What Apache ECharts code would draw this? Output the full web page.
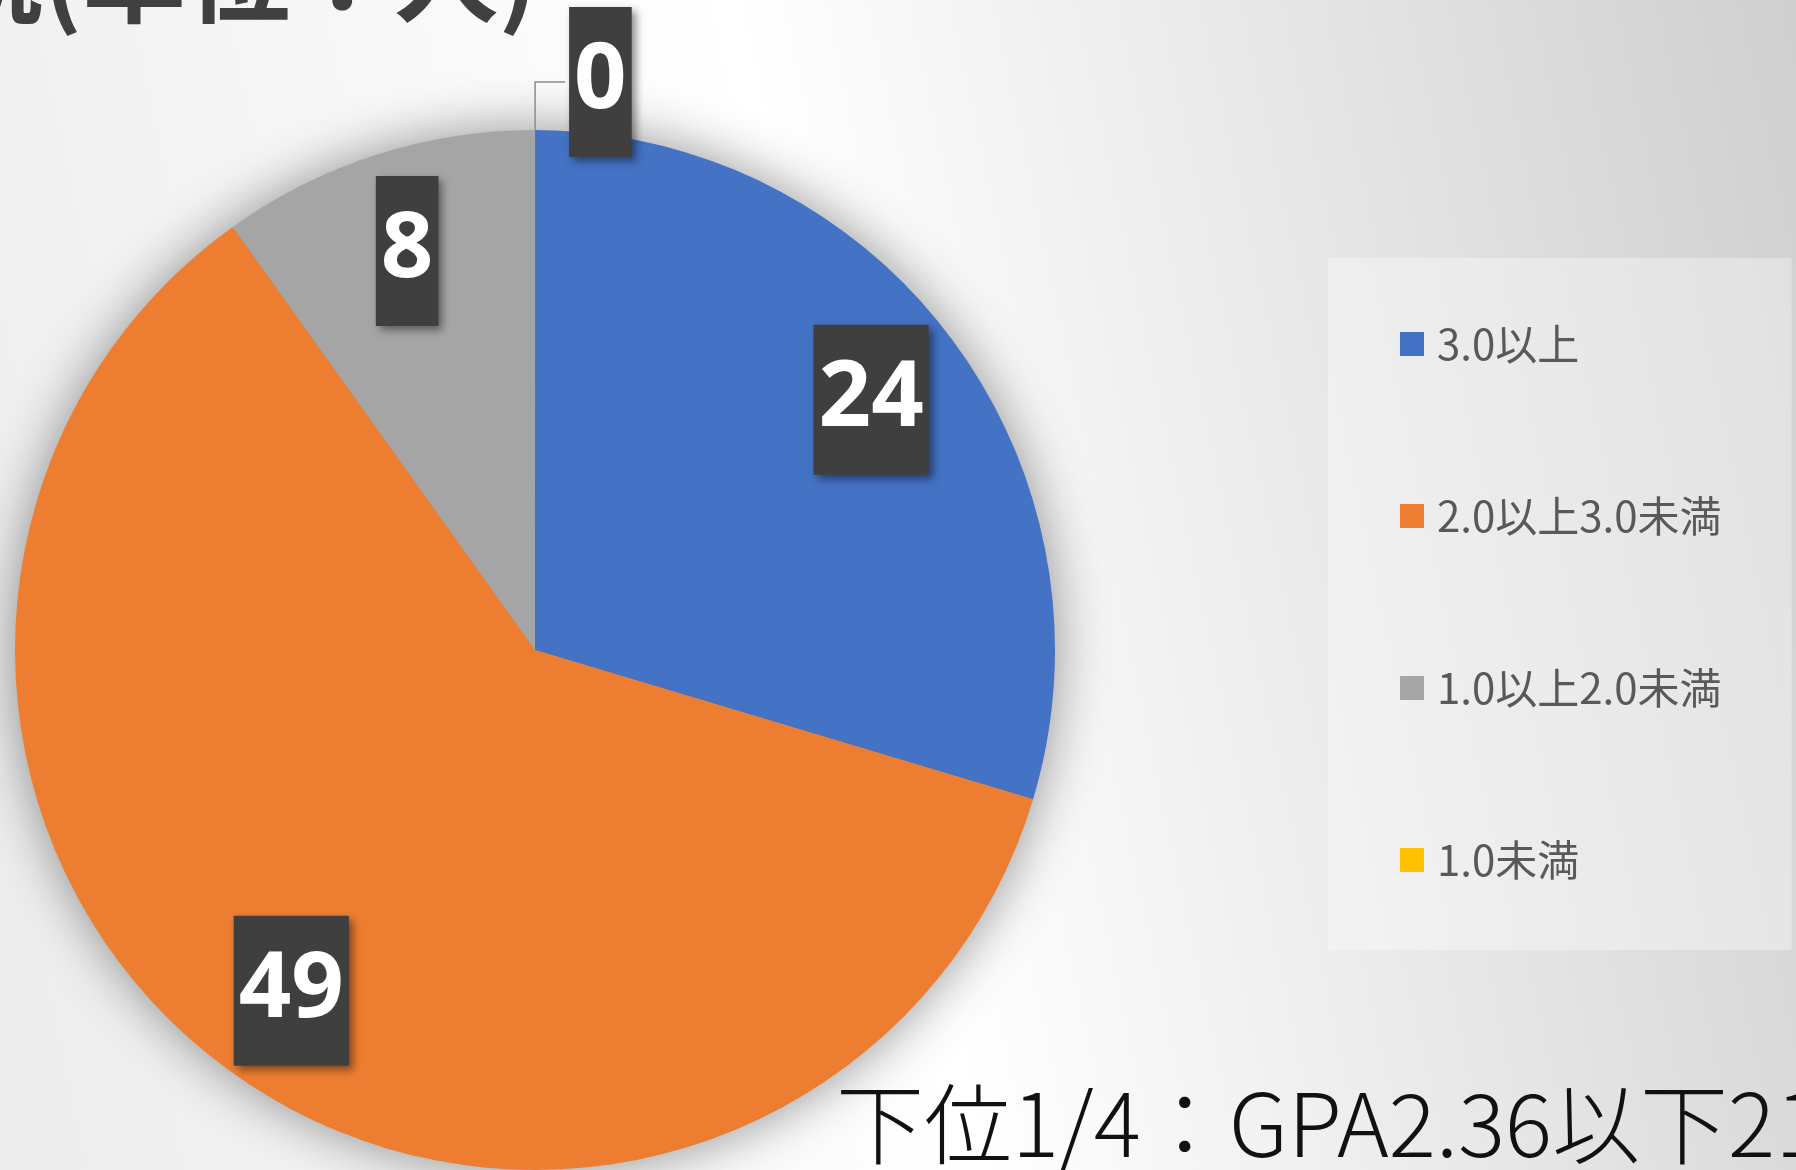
<!DOCTYPE html>
<html>
<head>
<meta charset="utf-8">
<script src="https://cdn.jsdelivr.net/npm/echarts@6/dist/echarts.min.js"></script>
<style>
  html, body { margin: 0; padding: 0; }
  #chart {
    width: 1796px; height: 1170px;
    background: linear-gradient(78deg, #ececec 0%, #ffffff 48%, #cfcfcf 100%);
  }
</style>
</head>
<body>
<div id="chart"></div>
<script>
// ---- data ----
const categories = ['3.0以上', '2.0以上3.0未満', '1.0以上2.0未満', '1.0未満'];
const counts = [24, 49, 8, 0];
const sliceColors = ['#4472C4', '#ED7D31', '#A5A5A5', '#FFC000'];
const titleText = '統(単位：人)';
const noteText = '下位1/4：GPA2.36以下21人';

// ---- chart ----
const chart = echarts.init(document.getElementById('chart'), null, { renderer: 'canvas' });

const CENTER = [535, 650];
const R = 520;
const START = 89.99; // top of the circle (tiny offset so the zero slice's label goes right)

const labelBox = {
  color: '#ffffff',
  fontFamily: '"Noto Sans", "Open Sans", sans-serif',
  fontWeight: 'bold',
  fontSize: 92,
  lineHeight: 130,
  padding: [10, 5],
  backgroundColor: '#3f3f3f',
  shadowColor: 'rgba(0,0,0,0.45)',
  shadowBlur: 8,
  shadowOffsetX: 4,
  shadowOffsetY: 4,
  formatter: '{c}'
};

const mainData = categories.map((name, i) => ({
  name: name,
  value: counts[i],
  itemStyle: { color: sliceColors[i] },
  label: { show: counts[i] === 0 },
  labelLine: { show: counts[i] === 0 }
}));

const overlayData = categories.map((name, i) => ({
  name: name,
  value: counts[i],
  label: { show: counts[i] !== 0 }
}));

const option = {
  animation: false,
  backgroundColor: 'transparent',
  graphic: [
    {
      type: 'text',
      x: -61, y: -25,
      z: 10,
      style: {
        text: titleText,
        font: 'bold 104px "Noto Sans CJK JP"',
        fill: '#404040',
        align: 'left',
        verticalAlign: 'middle'
      }
    },
    {
      type: 'text',
      x: 836, y: 1124,
      z: 10,
      style: {
        text: noteText,
        font: '300 88px "Noto Sans CJK JP"',
        fill: '#111111',
        align: 'left',
        verticalAlign: 'middle'
      }
    }
  ],
  legend: {
    orient: 'vertical',
    left: 1328,
    top: 258,
    padding: [65, 70, 69, 72],
    backgroundColor: 'rgba(255,255,255,0.35)',
    data: categories,
    icon: 'rect',
    itemWidth: 24,
    itemHeight: 24,
    itemGap: 130,
    textStyle: {
      color: '#595959',
      fontFamily: '"Noto Sans CJK JP"',
      fontSize: 42,
      lineHeight: 40,
      padding: [0, 0, 0, 8]
    },
    selectedMode: false
  },
  series: [
    {
      // soft shadow under the pie
      type: 'pie',
      z: 1,
      silent: true,
      center: CENTER,
      radius: R - 2,
      label: { show: false },
      labelLine: { show: false },
      itemStyle: {
        color: '#9a9a9a',
        shadowBlur: 55,
        shadowColor: 'rgba(0,0,0,0.45)'
      },
      data: [{ name: '_shadow', value: 1 }]
    },
    {
      type: 'pie',
      z: 2,
      center: CENTER,
      radius: R,
      startAngle: START,
      clockwise: true,
      avoidLabelOverlap: false,
      silent: true,
      emphasis: { disabled: true },
      label: Object.assign({}, labelBox, { position: 'outside', distanceToLabelLine: 4 }),
      labelLine: {
        length: 48,
        length2: 30,
        lineStyle: { color: '#8c8c8c', width: 1.5 }
      },
      data: mainData
    },
    {
      // transparent ring used to place the inside value labels
      type: 'pie',
      z: 3,
      center: CENTER,
      radius: [Math.round(R * 0.6), R],
      startAngle: START,
      clockwise: true,
      silent: true,
      avoidLabelOverlap: false,
      emphasis: { disabled: true },
      itemStyle: { color: 'rgba(0,0,0,0)' },
      label: Object.assign({}, labelBox, { position: 'inside' }),
      labelLine: { show: false },
      data: overlayData
    }
  ]
};

chart.setOption(option);
</script>
</body>
</html>
